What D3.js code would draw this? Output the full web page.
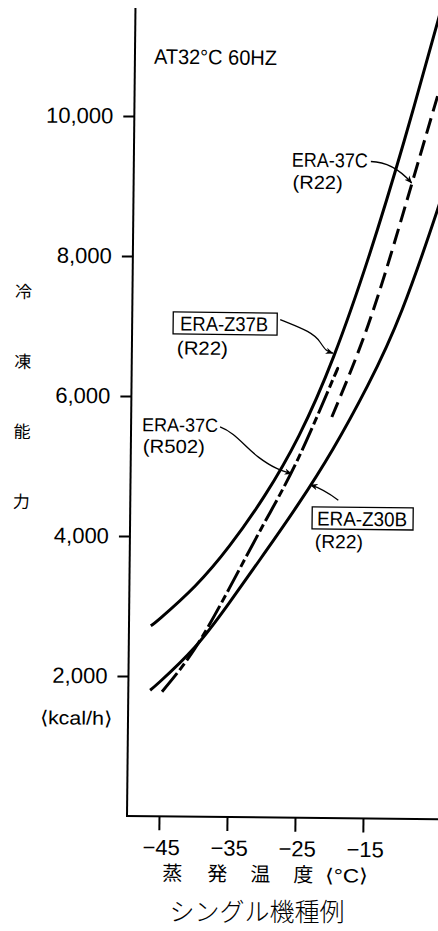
<!DOCTYPE html>
<html>
<head>
<meta charset="utf-8">
<script src="https://cdn.jsdelivr.net/npm/d3@7"></script>
<style>
  body { margin: 0; background: #fff; }
  svg { display: block; }
</style>
</head>
<body>
<div id="chart"></div>
<script>
const width = 438;
const height = 931;

// ------------------
// DATA
// ------------------
const tempTicks = [-45, -35, -25, -15];
const capTicks = [2000, 4000, 6000, 8000, 10000];

// ERA-Z37B (R22), solid
const z37bTemp = [-46.5, -45, -40, -35, -30, -25, -20, -15, -10, -5, -3];
const z37bCap  = [2720, 2840, 3300, 3880, 4590, 5460, 6600, 8030, 9680, 11480, 12250];

// ERA-37C (R502), long dash
const c37r502Temp = [-44.75, -40, -35, -30, -25, -20, -19.8];
const c37r502Cap  = [1780, 2400, 3270, 4200, 5150, 6290, 6330];

// ERA-37C (R22), dashed
const c37r22Temp = [-20.2, -15, -10, -5, -3];
const c37r22Cap  = [5730, 7050, 8660, 10380, 11050];

// ERA-Z30B (R22), solid
const z30bTemp = [-46.5, -45, -40, -35, -30, -25, -20, -15, -10, -5, -3];
const z30bCap  = [1800, 1930, 2420, 3060, 3760, 4480, 5270, 6180, 7280, 8700, 9330];

const series = [
    { temp: z37bTemp, cap: z37bCap, dash: null },
    { temp: c37r502Temp, cap: c37r502Cap, dash: "24,4,8,4" },
    { temp: c37r22Temp, cap: c37r22Cap, dash: "16,7" },
    { temp: z30bTemp, cap: z30bCap, dash: null }
];

// ------------------
// SVG
// ------------------
const svg = d3.select("#chart")
    .append("svg")
    .attr("width", width)
    .attr("height", height);

svg.append("defs").append("marker")
    .attr("id", "ah")
    .attr("viewBox", "0 0 10 10")
    .attr("refX", 9)
    .attr("refY", 5)
    .attr("markerWidth", 8)
    .attr("markerHeight", 8)
    .attr("markerUnits", "userSpaceOnUse")
    .attr("orient", "auto")
    .append("path")
    .attr("d", "M0,1 L10,5 L0,9 L3,5 z")
    .attr("fill", "#000");

// the scan is tilted a little
const g = svg.append("g").attr("transform", "rotate(0.6,127,816)");

const axisX0 = 127;
const x = d3.scaleLinear().domain([-45, -15]).range([159, 363]);
const y = d3.scaleLinear().domain([0, 10000]).range([816, 116]);

const numFont = "'Liberation Sans', Arial, sans-serif";
const cjkFont = "'Noto Sans CJK JP', sans-serif";

// ------------------
// AXES
// ------------------
const yAxis = g.append("g")
    .attr("transform", `translate(${axisX0},0)`)
    .call(d3.axisLeft(y).tickValues(capTicks).tickSize(11).tickPadding(10).tickFormat(d3.format(",")));
yAxis.select(".domain").remove();
yAxis.selectAll("line").attr("stroke-width", 2);
yAxis.selectAll("text").attr("font-family", numFont).attr("font-size", 22).attr("fill", "#000");

const xAxis = g.append("g")
    .attr("transform", "translate(0,816)")
    .call(d3.axisBottom(x).tickValues(tempTicks).tickSize(14).tickPadding(9));
xAxis.select(".domain").remove();
xAxis.selectAll("line").attr("stroke-width", 2);
xAxis.selectAll("text").attr("font-family", numFont).attr("font-size", 22).attr("dx", 2).attr("fill", "#000");

g.append("line")
    .attr("x1", axisX0).attr("y1", 8)
    .attr("x2", axisX0).attr("y2", 817)
    .attr("stroke", "#000").attr("stroke-width", 2);

g.append("line")
    .attr("x1", axisX0 - 1).attr("y1", 816)
    .attr("x2", 460).attr("y2", 816)
    .attr("stroke", "#000").attr("stroke-width", 2);

// ------------------
// CURVES
// ------------------
const line = d3.line()
    .curve(d3.curveNatural)
    .x(d => x(d[0]))
    .y(d => y(d[1]));

series.forEach(s => {
    const pts = s.temp.map((t, i) => [t, s.cap[i]]);
    g.append("path")
        .attr("d", line(pts))
        .attr("fill", "none")
        .attr("stroke", "#000")
        .attr("stroke-width", 3)
        .attr("stroke-dasharray", s.dash);
});

// ------------------
// TEXTS
// ------------------
function label(t, px, py, fs, w, anchor) {
    const el = g.append("text")
        .attr("x", px).attr("y", py)
        .attr("font-family", numFont)
        .attr("font-size", fs)
        .attr("text-anchor", anchor || "start")
        .text(t);
    if (w) el.attr("textLength", w).attr("lengthAdjust", "spacingAndGlyphs");
    return el;
}

label("AT32°C 60HZ", 146, 63.5, 21, 123);

label("ERA-37C", 285, 165, 20, 76);
label("(R22)", 286, 187, 19, 50);

g.append("rect")
    .attr("x", 168).attr("y", 311.5).attr("width", 104).attr("height", 22)
    .attr("fill", "none").attr("stroke", "#000").attr("stroke-width", 1.3);
label("ERA-Z37B", 175, 330, 20, 88);
label("(R22)", 172, 354, 19, 51);

label("ERA-37C", 138, 431, 19, 76);
label("(R502)", 139, 452.5, 19, 62);

g.append("rect")
    .attr("x", 309).attr("y", 505).attr("width", 101).attr("height", 22)
    .attr("fill", "none").attr("stroke", "#000").attr("stroke-width", 1.3);
label("ERA-Z30B", 314, 523.5, 20, 90);
label("(R22)", 312, 546, 19, 48);

label("⟨kcal/h⟩", 111, 725, 19, 72, "end");

// arrows
const arrows = [
    "M364,159 Q386,159 405,180",
    "M275,318 C295,326 308,330 315,340 S322,349 328,351",
    "M216,426 C232,432 240,445 255,456 S278,469 288,472",
    "M335,498 Q320,487 307,483"
];
arrows.forEach(d => {
    g.append("path")
        .attr("d", d)
        .attr("fill", "none")
        .attr("stroke", "#000")
        .attr("stroke-width", 1.3)
        .attr("marker-end", "url(#ah)");
});

// y label (vertical)
["冷", "凍", "能", "力"].forEach((c, i) => {
    g.append("text")
        .attr("x", 18).attr("y", 293 + i * 70)
        .attr("dy", "0.35em")
        .attr("text-anchor", "middle")
        .attr("font-family", cjkFont)
        .attr("font-size", 17)
        .text(c);
});

// x label
const xLabelChars = ["蒸", "発", "温", "度"];
const xLabelPos = [173, 218, 261, 304];
xLabelChars.forEach((c, i) => {
    g.append("text")
        .attr("x", xLabelPos[i]).attr("y", 880)
        .attr("text-anchor", "middle")
        .attr("font-family", cjkFont)
        .attr("font-size", 20)
        .text(c);
});
label("⟨°C⟩", 347, 880, 19, 42, "middle");

// caption
svg.append("text")
    .attr("x", 257).attr("y", 921)
    .attr("text-anchor", "middle")
    .attr("font-family", cjkFont)
    .attr("font-size", 25)
    .attr("font-weight", 300)
    .text("シングル機種例");
</script>
</body>
</html>
